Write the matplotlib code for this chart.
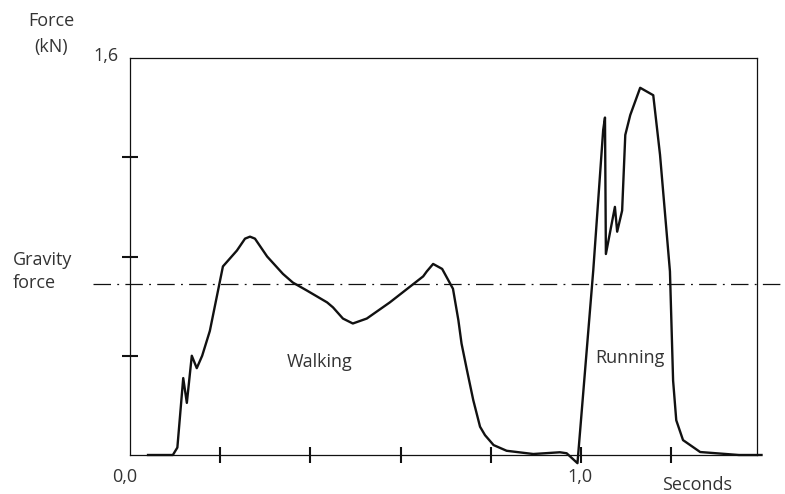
import matplotlib.pyplot as plt
import matplotlib.transforms as mtransforms

# ----- Data (time in s, force in kN) -----
time_s = [0.040, 0.095, 0.105, 0.118, 0.126, 0.137, 0.148, 0.160, 0.177,
          0.206, 0.237, 0.255, 0.266, 0.277, 0.304, 0.339, 0.361, 0.392,
          0.437, 0.450, 0.472, 0.494, 0.525, 0.576, 0.650, 0.658, 0.672,
          0.692, 0.716, 0.728, 0.735, 0.747, 0.761, 0.776, 0.787, 0.806,
          0.835, 0.894, 0.953, 0.968, 0.992, 1.027, 1.049, 1.053, 1.055,
          1.075, 1.080, 1.091, 1.098, 1.109, 1.131, 1.160, 1.175, 1.197,
          1.204, 1.211, 1.226, 1.264, 1.350, 1.400]
force_kn = [0.00, 0.00, 0.03, 0.31, 0.21, 0.40, 0.35, 0.40, 0.50,
            0.76, 0.824, 0.872, 0.88, 0.872, 0.80, 0.73, 0.695, 0.663,
            0.615, 0.595, 0.55, 0.53, 0.55, 0.615, 0.72, 0.74, 0.77,
            0.75, 0.67, 0.543, 0.449, 0.342, 0.221, 0.114, 0.080, 0.040,
            0.017, 0.004, 0.011, 0.007, -0.033, 0.744, 1.31, 1.36, 0.81,
            1.00, 0.90, 0.985, 1.29, 1.37, 1.48, 1.45, 1.21, 0.74,
            0.30, 0.14, 0.06, 0.012, 0.00, 0.00]

gravity_force = 0.69
x_ticks = [0.2, 0.4, 0.6, 0.8, 1.0, 1.2]
y_ticks = [0.4, 0.8, 1.2]

txt = "#333333"
plt.rcParams['font.family'] = ['Open Sans', 'DejaVu Sans']

# ----- Plot -----
fig = plt.figure(figsize=(7.85, 4.94), dpi=100)
ax = fig.add_axes([130 / 785, 39 / 494, 627 / 785, 397 / 494])

ax.plot(time_s, force_kn, color="#111111", linewidth=1.7, clip_on=False,
        solid_joinstyle="round")

# gravity line runs past the axes on both sides
trans = mtransforms.blended_transform_factory(ax.transAxes, ax.transData)
ax.plot([-0.059, 1.045], [gravity_force, gravity_force], transform=trans,
        color="#111111", linewidth=0.9, linestyle=(0, (14, 5, 1.5, 5)),
        clip_on=False)

ax.set_xlim(0, 1.39)
ax.set_ylim(0, 1.6)
ax.set_xticks(x_ticks)
ax.set_xticklabels([])
ax.set_yticks(y_ticks)
ax.set_yticklabels([])
ax.tick_params(direction="inout", length=12, width=1.5, color="#111111")
for s in ax.spines.values():
    s.set_linewidth(0.9)
    s.set_color("#111111")

# labels
fs = 13
ax.text(-0.019, 1.005, "1,6", transform=ax.transAxes, ha="right", va="center",
        fontsize=fs, color=txt)
fig.text(51 / 785, 1 - 21 / 494, "Force", ha="center", va="center",
         fontsize=fs, color=txt)
fig.text(51 / 785, 1 - 47 / 494, "(kN)", ha="center", va="center",
         fontsize=fs, color=txt)
fig.text(13 / 785, 1 - 260 / 494, "Gravity", ha="left", va="center",
         fontsize=fs, color=txt)
fig.text(13 / 785, 1 - 283 / 494, "force", ha="left", va="center",
         fontsize=fs, color=txt)
fig.text(125 / 785, 1 - 477 / 494, "0,0", ha="center", va="center",
         fontsize=fs, color=txt)
fig.text(580 / 785, 1 - 477 / 494, "1,0", ha="center", va="center",
         fontsize=fs, color=txt)
fig.text(697 / 785, 1 - 485 / 494, "Seconds", ha="center", va="center",
         fontsize=fs, color=txt)
fig.text(320 / 785, 1 - 362 / 494, "Walking", ha="center", va="center",
         fontsize=fs, color=txt)
fig.text(630 / 785, 1 - 358 / 494, "Running", ha="center", va="center",
         fontsize=fs, color=txt)

fig.savefig("out.png", dpi=100)
